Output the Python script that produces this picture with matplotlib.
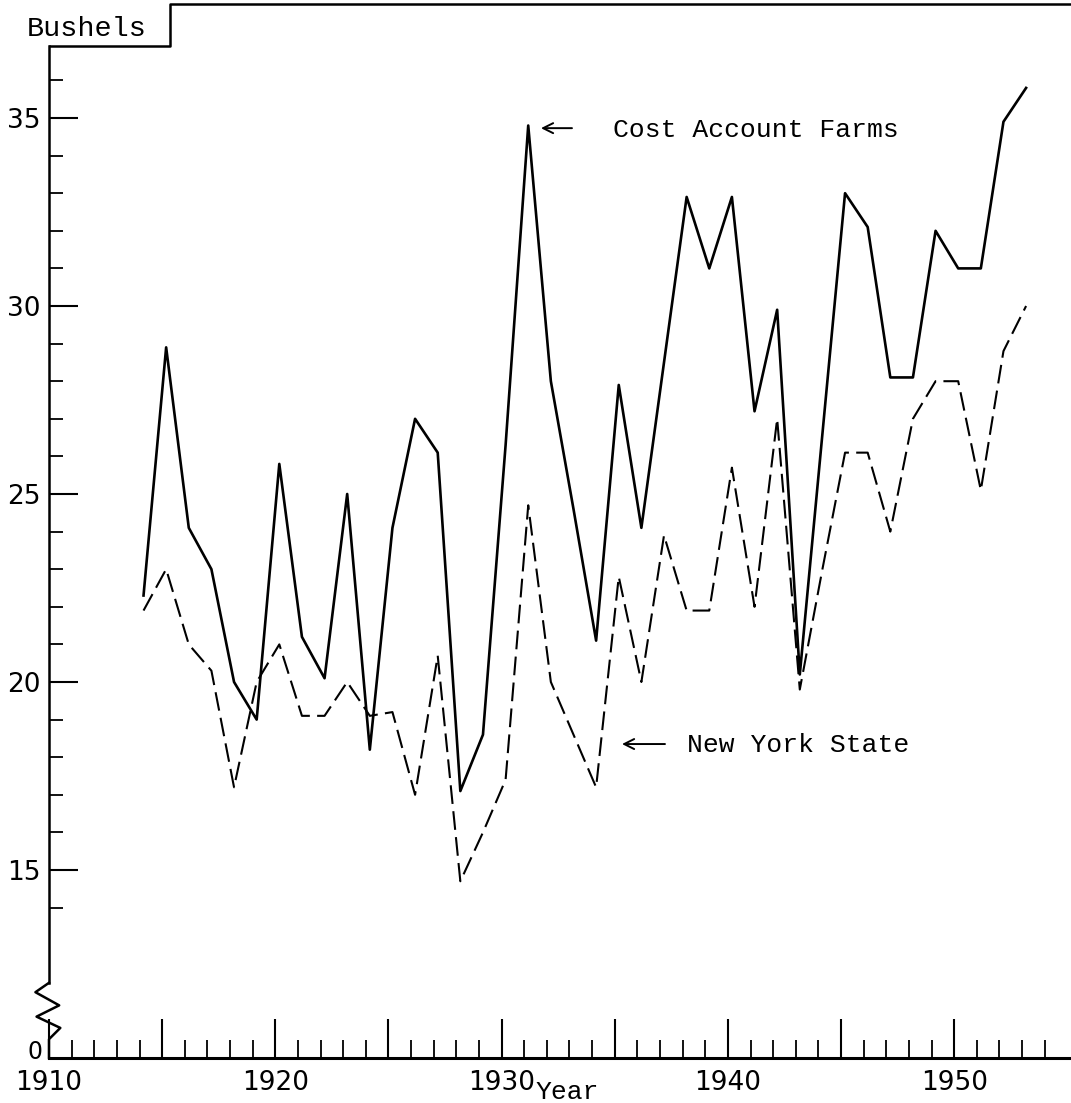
import matplotlib
matplotlib.use("Agg")
import matplotlib.pyplot as plt
from matplotlib.lines import Line2D
from matplotlib.ticker import FixedLocator, FixedFormatter
from matplotlib.transforms import ScaledTranslation

# ---- data (bushels per acre) ----
years = list(range(1914, 1954))
cost_account_farms = [22.3, 28.9, 24.1, 23.0, 20.0, 19.0, 25.8, 21.2, 20.1, 25.0,
                      18.2, 24.1, 27.0, 26.1, 17.1, 18.6, 26.3, 34.8, 28.0, 24.6,
                      21.1, 27.9, 24.1, 28.5, 32.9, 31.0, 32.9, 27.2, 29.9, 20.2,
                      26.6, 33.0, 32.1, 28.1, 28.1, 32.0, 31.0, 31.0, 34.9, 35.8]
new_york_state = [21.9, 23.0, 21.0, 20.3, 17.2, 20.0, 21.0, 19.1, 19.1, 20.0,
                  19.1, 19.2, 17.0, 20.7, 14.7, 16.0, 17.4, 24.7, 20.0, 18.6,
                  17.2, 22.8, 20.0, 23.9, 21.9, 21.9, 25.7, 22.0, 27.0, 19.8,
                  23.0, 26.1, 26.1, 24.0, 27.0, 28.0, 28.0, 25.1, 28.8, 30.0]

x_major = [1910, 1915, 1920, 1925, 1930, 1935, 1940, 1945, 1950]
x_major_labels = ["1910", "", "1920", "", "1930", "", "1940", "", "1950"]
x_minor = [y for y in range(1911, 1955) if y % 5 != 0]

# broken axis: the bottom of the plotted scale (10) is labelled 0
y_major = [15, 20, 25, 30, 35]
y_major_labels = ["15", "20", "25", "30", "35"]
y_minor = [14, 16, 17, 18, 19, 21, 22, 23, 24, 26, 27, 28, 29, 31, 32, 33, 34, 36]

W, H = 1071, 1103
fig = plt.figure(figsize=(W / 100, H / 100), dpi=100)
fig.patch.set_facecolor("white")

ax_left, ax_right, ax_top, ax_bot = 49, 1071, 46, 1058
ax = fig.add_axes([ax_left / W, 1 - ax_bot / H, (ax_right - ax_left) / W, (ax_bot - ax_top) / H])
ax.set_xlim(1910, 1910 + (ax_right - ax_left) / 22.63)
ax.set_ylim(10, 10 + (ax_bot - ax_top) / 37.6)

mono = ["Liberation Mono", "DejaVu Sans Mono"]
numfont = ["DejaVu Sans"]

# the hand-plotted points sit a few pixels right of the ticks
shift = ax.transData + ScaledTranslation(0.04, 0, fig.dpi_scale_trans)
ax.plot(years, cost_account_farms, color="black", lw=1.9, transform=shift)
ax.plot(years, new_york_state, color="black", lw=1.5, dashes=(9, 3.5), transform=shift)

for s in ["top", "right", "left"]:
    ax.spines[s].set_visible(False)
ax.spines["bottom"].set_linewidth(2.2)

# x ticks
ax.xaxis.set_major_locator(FixedLocator(x_major))
ax.xaxis.set_major_formatter(FixedFormatter(x_major_labels))
ax.xaxis.set_minor_locator(FixedLocator(x_minor))
ax.tick_params(axis="x", which="major", direction="in", length=28, width=1.5, pad=9,
               labelsize=19)
ax.tick_params(axis="x", which="minor", direction="in", length=13, width=1.3)
# y ticks
ax.yaxis.set_major_locator(FixedLocator(y_major))
ax.yaxis.set_major_formatter(FixedFormatter(y_major_labels))
ax.yaxis.set_minor_locator(FixedLocator(y_minor))
ax.tick_params(axis="y", which="major", direction="in", length=21, width=1.5, pad=6,
               labelsize=19)
ax.tick_params(axis="y", which="minor", direction="in", length=10, width=1.3)
for lab in ax.get_xticklabels() + ax.get_yticklabels():
    lab.set_family(numfont)

# "0" at the origin of the broken axis
ax.text(1909.7, 10.15, "0", family=numfont, fontsize=17, ha="right", va="center")

# y axis line with break zigzag
ymax = ax.get_ylim()[1]
ax.plot([1910, 1910], [12.0, ymax], color="black", lw=1.8, clip_on=False)
ax.plot([1910, 1909.4, 1910.45, 1909.45, 1910.5, 1910.0, 1910.0],
        [12.0, 11.75, 11.4, 11.1, 10.8, 10.5, 10.0],
        color="black", lw=1.8, clip_on=False)

# frame lines at top (page border around "Bushels")
def fx(px):
    return px / W

def fy(py):
    return 1 - py / H

fig.add_artist(Line2D([fx(50), fx(170), fx(170), fx(1071)],
                      [fy(46), fy(46), fy(4), fy(4)],
                      color="black", lw=1.8, transform=fig.transFigure))

fig.text(fx(27), fy(29), "Bushels", family=mono, fontsize=20.5, ha="left", va="center")
fig.text(fx(567), fy(1092), "Year", family=mono, fontsize=19, ha="center", va="center")

# labels with arrows
ax.text(1934.92, 34.68, "Cost Account Farms", family=mono, fontsize=19,
        ha="left", va="center")
ax.annotate("", xy=(1931.74, 34.73), xytext=(1933.11, 34.73),
            arrowprops=dict(arrowstyle="->", lw=1.4, color="black",
                            mutation_scale=18, shrinkA=0, shrinkB=0))
ax.text(1938.19, 18.32, "New York State", family=mono, fontsize=19,
        ha="left", va="center")
ax.annotate("", xy=(1935.32, 18.35), xytext=(1937.22, 18.35),
            arrowprops=dict(arrowstyle="->", lw=1.4, color="black",
                            mutation_scale=18, shrinkA=0, shrinkB=0))

fig.savefig("out.png", dpi=100, facecolor="white")
